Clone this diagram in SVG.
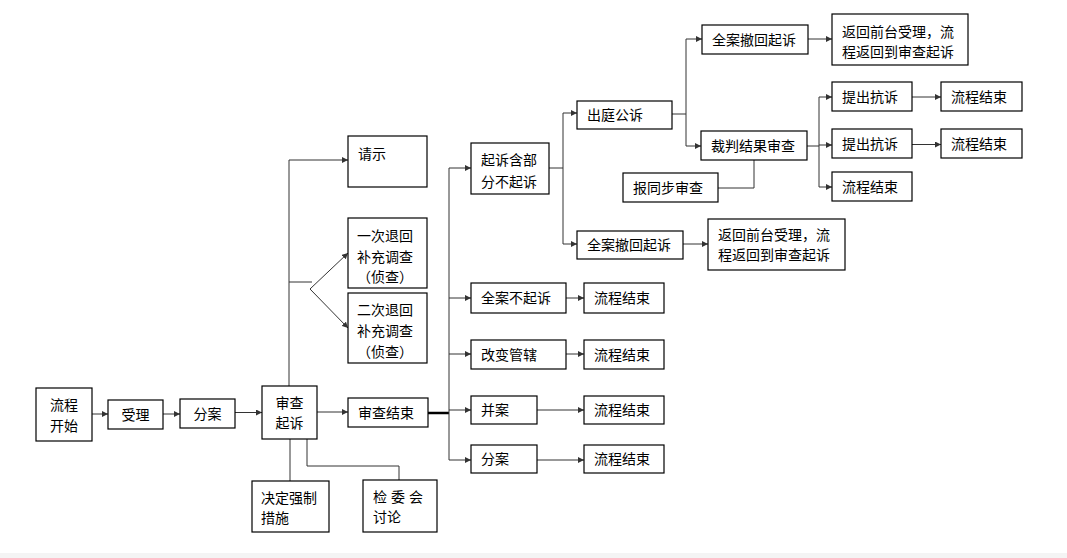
<svg xmlns="http://www.w3.org/2000/svg" width="1067" height="558" viewBox="0 0 1067 558">
<defs>
<marker id="arr" markerUnits="userSpaceOnUse" markerWidth="7" markerHeight="6" refX="6" refY="3" orient="auto">
<path d="M0,0 L6,3 L0,6 z" fill="#333"/>
</marker>
<style>
.b{fill:#fff;stroke:#000;stroke-width:1.2}
.t{font-family:"Noto Sans CJK SC","Noto Sans",sans-serif;font-size:14px;fill:#000}
.c{text-anchor:middle}
.l{fill:none;stroke:#333;stroke-width:1}
.a{fill:none;stroke:#333;stroke-width:1;marker-end:url(#arr)}
</style>
</defs>
<rect width="1067" height="558" fill="#fff"/>
<rect x="0" y="553" width="1067" height="5" fill="#f4f4f4"/>

<g id="connectors">
<path class="a" d="M92,414 H108"/>
<path class="a" d="M163,414 H180"/>
<path class="a" d="M235,412.5 H262"/>
<path class="a" d="M317,412 H348"/>
<path class="a" d="M289,386 V160 H348"/>
<path class="l" d="M289,282 H312"/>
<path class="a" d="M310,289 L348,253"/>
<path class="a" d="M310,289 L348,328"/>
<path class="l" d="M290,439 V481"/>
<path class="l" d="M307,439 V466 H399 V480"/>
<path fill="none" stroke="#000" stroke-width="2.5" d="M428,413 H449"/>
<path class="l" d="M449,168 V460"/>
<path class="a" d="M449,168 H471"/>
<path class="a" d="M449,298 H471"/>
<path class="a" d="M449,354 H471"/>
<path class="a" d="M449,410 H471"/>
<path class="a" d="M449,460 H471"/>
<path class="a" d="M566,298 H584"/>
<path class="a" d="M566,354 H584"/>
<path class="a" d="M537,410 H584"/>
<path class="a" d="M537,460 H584"/>
<path class="l" d="M549,168 H563 M563,113 V244"/>
<path class="a" d="M563,113 H577"/>
<path class="a" d="M563,244 H577"/>
<path class="a" d="M683,244 H708"/>
<path class="l" d="M672,114 H686 M686,39 V146"/>
<path class="a" d="M686,39 H702"/>
<path class="a" d="M686,146 H701"/>
<path class="a" d="M808,39 H832"/>
<path class="l" d="M807,146 H819 M819,97 V187"/>
<path class="a" d="M819,97 H832"/>
<path class="a" d="M819,145 H832"/>
<path class="a" d="M819,187 H832"/>
<path class="a" d="M912,97 H941"/>
<path class="a" d="M912,144.5 H941"/>
<path class="l" d="M718,188 H754 V160"/>
</g>

<g id="n1"><rect class="b" x="36" y="388" width="56" height="53"/><text class="t c" x="64" y="409.5">流程</text><text class="t c" x="64" y="431">开始</text></g>
<g id="n2"><rect class="b" x="108" y="400" width="55" height="29"/><text class="t c" x="135.5" y="419.5">受理</text></g>
<g id="n3"><rect class="b" x="180" y="399" width="55" height="29"/><text class="t c" x="207.5" y="418.5">分案</text></g>
<g id="n4"><rect class="b" x="262" y="386" width="55" height="53"/><text class="t c" x="289.5" y="408">审查</text><text class="t c" x="289.5" y="428">起诉</text></g>
<g id="n5"><rect class="b" x="348" y="398" width="80" height="29"/><text class="t" x="358" y="418">审查结束</text></g>
<g id="n6"><rect class="b" x="348" y="136" width="79" height="51"/><text class="t" x="358" y="159">请示</text></g>
<g id="n7"><rect class="b" x="348" y="218" width="79" height="70"/><text class="t" x="357" y="241">一次退回</text><text class="t" x="357" y="262">补充调查</text><text class="t" x="357" y="282">（侦查）</text></g>
<g id="n8"><rect class="b" x="348" y="293" width="79" height="70"/><text class="t" x="357" y="315">二次退回</text><text class="t" x="357" y="336">补充调查</text><text class="t" x="357" y="357">（侦查）</text></g>
<g id="n9"><rect class="b" x="252" y="481" width="77" height="51"/><text class="t" x="261" y="503">决定强制</text><text class="t" x="261" y="523">措施</text></g>
<g id="n10"><rect class="b" x="363" y="480" width="74" height="52"/><text class="t" y="502"><tspan x="373">检</tspan><tspan x="391">委</tspan><tspan x="409">会</tspan></text><text class="t" x="373" y="522">讨论</text></g>
<g id="n11"><rect class="b" x="471" y="143" width="78" height="51"/><text class="t" x="481" y="165">起诉含部</text><text class="t" x="481" y="187">分不起诉</text></g>
<g id="n12"><rect class="b" x="471" y="283" width="95" height="30"/><text class="t" x="481" y="303">全案不起诉</text></g>
<g id="n13"><rect class="b" x="471" y="340" width="95" height="29"/><text class="t" x="481" y="359.5">改变管辖</text></g>
<g id="n14"><rect class="b" x="471" y="396" width="66" height="28"/><text class="t" x="481" y="415">并案</text></g>
<g id="n15"><rect class="b" x="471" y="445" width="66" height="28"/><text class="t" x="481" y="464">分案</text></g>
<g id="n16"><rect class="b" x="584" y="283" width="80" height="30"/><text class="t" x="594" y="303">流程结束</text></g>
<g id="n17"><rect class="b" x="584" y="340" width="80" height="29"/><text class="t" x="594" y="359.5">流程结束</text></g>
<g id="n18"><rect class="b" x="584" y="396" width="80" height="28"/><text class="t" x="594" y="415">流程结束</text></g>
<g id="n19"><rect class="b" x="584" y="445" width="80" height="28"/><text class="t" x="594" y="464">流程结束</text></g>
<g id="n20"><rect class="b" x="577" y="101" width="95" height="28"/><text class="t" x="587" y="120">出庭公诉</text></g>
<g id="n21"><rect class="b" x="577" y="231" width="106" height="28"/><text class="t" x="587" y="250">全案撤回起诉</text></g>
<g id="n22"><rect class="b" x="708" y="219" width="137" height="51"/><text class="t" x="718" y="240">返回前台受理，流</text><text class="t" x="718" y="260">程返回到审查起诉</text></g>
<g id="n23"><rect class="b" x="702" y="25" width="106" height="29"/><text class="t" x="712" y="44.5">全案撤回起诉</text></g>
<g id="n24"><rect class="b" x="832" y="14" width="136" height="51"/><text class="t" x="842" y="37">返回前台受理，流</text><text class="t" x="842" y="57">程返回到审查起诉</text></g>
<g id="n25"><rect class="b" x="701" y="131" width="106" height="29"/><text class="t" x="711" y="150.5">裁判结果审查</text></g>
<g id="n26"><rect class="b" x="623" y="173" width="95" height="29"/><text class="t" x="633" y="192.5">报同步审查</text></g>
<g id="n27"><rect class="b" x="832" y="82" width="80" height="29"/><text class="t" x="842" y="101.5">提出抗诉</text></g>
<g id="n28"><rect class="b" x="941" y="82" width="81" height="29"/><text class="t" x="951" y="101.5">流程结束</text></g>
<g id="n29"><rect class="b" x="832" y="129" width="80" height="29"/><text class="t" x="842" y="148.5">提出抗诉</text></g>
<g id="n30"><rect class="b" x="941" y="129" width="81" height="29"/><text class="t" x="951" y="148.5">流程结束</text></g>
<g id="n31"><rect class="b" x="832" y="172" width="80" height="29"/><text class="t" x="842" y="191.5">流程结束</text></g>
</svg>
